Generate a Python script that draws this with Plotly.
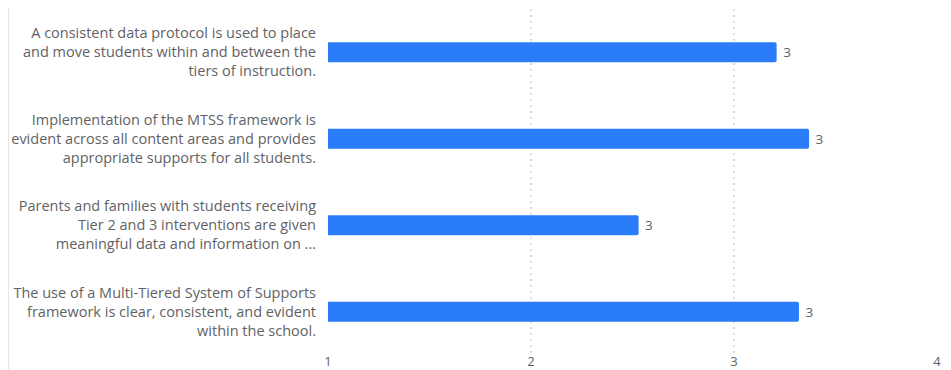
import plotly.graph_objects as go

categories = [
    "A consistent data protocol is used to place<br>and move students within and between the<br>tiers of instruction.",
    "Implementation of the MTSS framework is<br>evident across all content areas and provides<br>appropriate supports for all students.",
    "Parents and families with students receiving<br>Tier 2 and 3 interventions are given<br>meaningful data and information on ...",
    "The use of a Multi-Tiered System of Supports<br>framework is clear, consistent, and evident<br>within the school.",
]
values = [3.21, 3.37, 2.53, 3.32]
tick_vals = [1, 2, 3, 4]

FONT = "Open Sans"
GREY = "#5f6266"

fig = go.Figure(
    go.Bar(
        x=values,
        y=categories,
        orientation="h",
        width=0.23,
        marker=dict(color="#2a7cf9", line=dict(width=0)),
        text=[f"{v:.0f}" for v in values],
        texttemplate=" %{text}",
        textposition="outside",
        textfont=dict(color=GREY, size=13.5, family=FONT),
        cliponaxis=False,
        hoverinfo="skip",
    )
)

L, R = 320, 14
W, H = 943, 362
pw = W - L - R

fig.update_layout(
    width=W,
    height=H,
    margin=dict(l=L, r=R, t=1, b=15),
    paper_bgcolor="white",
    plot_bgcolor="white",
    showlegend=False,
    barcornerradius=2,
    font=dict(family=FONT, color=GREY, size=13),
    shapes=[
        dict(type="line", xref="paper", yref="paper",
             x0=(0.5 - L) / pw, x1=(0.5 - L) / pw, y0=-0.2, y1=1.2,
             line=dict(color="#e8e8e8", width=1), layer="below"),
    ],
)

fig.update_xaxes(
    range=[1, 4],
    tickvals=tick_vals,
    ticktext=[str(t) for t in tick_vals],
    showgrid=True,
    gridcolor="#dedede",
    griddash="2px,4px",
    gridwidth=2,
    zeroline=False,
    showline=False,
    ticks="",
    automargin=False,
    ticklabelstandoff=-3,
    tickfont=dict(size=13, color=GREY, family=FONT),
)

fig.update_yaxes(
    autorange="reversed",
    showgrid=False,
    zeroline=False,
    showline=False,
    ticks="",
    automargin=False,
    ticklabelstandoff=11,
    tickfont=dict(size=14.5, color=GREY, family=FONT),
)

fig.write_html("out.html")
